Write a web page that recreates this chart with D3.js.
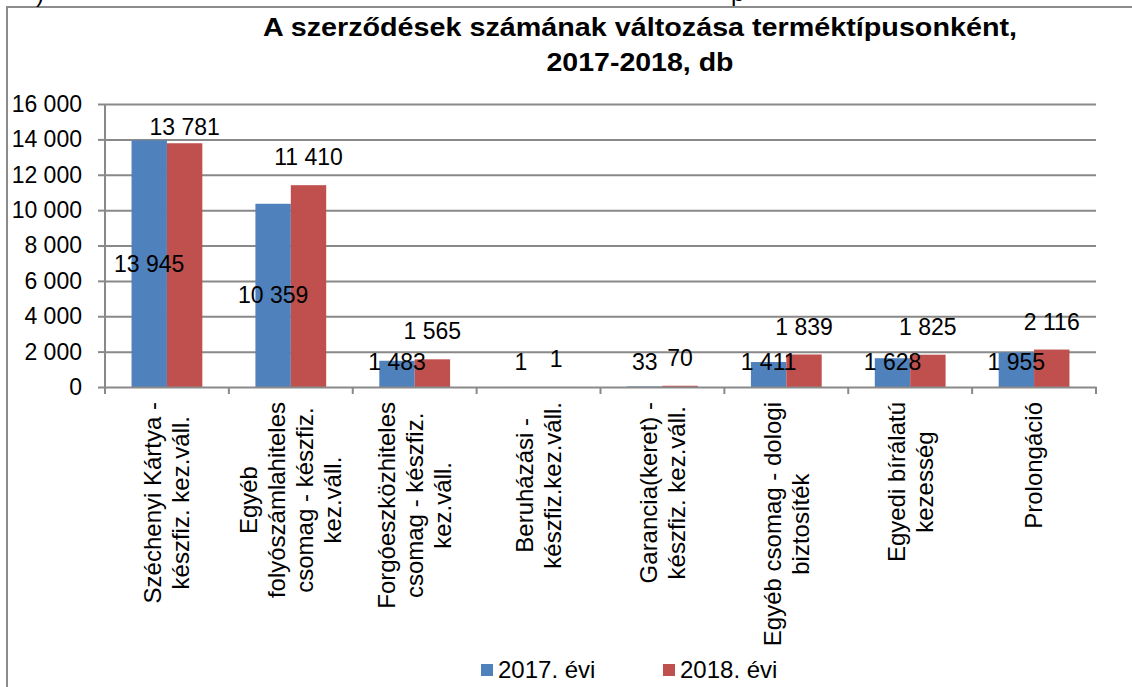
<!DOCTYPE html>
<html>
<head>
<meta charset="utf-8">
<script src="https://cdn.jsdelivr.net/npm/d3@7"></script>
<style>
  body { margin: 0; background: #fff; }
  svg { display: block; font-family: "Liberation Sans", Arial, sans-serif; }
</style>
</head>
<body>
<div id="chart"></div>
<script>
const categories = [
    ["Széchenyi Kártya -", "készfiz. kez.váll."],
    ["Egyéb", "folyószámlahiteles", "csomag - készfiz.", "kez.váll."],
    ["Forgóeszközhiteles", "csomag - készfiz.", "kez.váll."],
    ["Beruházási -", "készfiz.kez.váll."],
    ["Garancia(keret) -", "készfiz. kez.váll."],
    ["Egyéb csomag - dologi", "biztosíték"],
    ["Egyedi bírálatú", "kezesség"],
    ["Prolongáció"]
];
const seriesNames = ["2017. évi", "2018. évi"];
const values2017 = [13945, 10359, 1483, 1, 33, 1411, 1628, 1955];
const values2018 = [13781, 11410, 1565, 1, 70, 1839, 1825, 2116];
const yTicks = [0, 2000, 4000, 6000, 8000, 10000, 12000, 14000, 16000];
const titleLines = ["A szerződések számának változása terméktípusonként,", "2017-2018, db"];
const colors = ["#4F81BD", "#C0504D"];

const svg = d3.select("#chart").append("svg")
    .attr("width", 1132)
    .attr("height", 687);

const margin = {top: 104, right: 36, bottom: 300, left: 105};
const width = 1132 - margin.left - margin.right;
const height = 687 - margin.top - margin.bottom;
const gridColor = "#898989";

const fmt = v => d3.format(",")(v).replace(/,/g, " ");

// frame of the chart object (only top and left edges visible)
svg.append("path")
    .attr("d", "M7,687V7H1132")
    .attr("fill", "none")
    .attr("stroke", "#8c8c8c")
    .attr("stroke-width", 2);

// fragments of the text above the chart, cut off by the page edge
svg.append("text").attr("x", 36).attr("y", 2).attr("font-size", 24).text(")");
svg.append("text").attr("x", 731).attr("y", 1).attr("font-size", 24).text("p");

// title
svg.append("g").selectAll("text")
    .data(titleLines)
    .enter()
    .append("text")
        .attr("x", 640)
        .attr("y", (d, i) => 36 + i * 35)
        .attr("text-anchor", "middle")
        .attr("font-size", 25)
        .attr("font-weight", "bold")
        .attr("textLength", (d, i) => i === 0 ? 754 : 187)
        .attr("lengthAdjust", "spacingAndGlyphs")
        .text(d => d);

const g = svg.append("g").attr("transform", "translate(" + margin.left + "," + margin.top + ")");

const x = d3.scaleBand().domain(d3.range(categories.length)).range([0, width]);
const xs = d3.scaleBand().domain([0, 1]).range([0, x.bandwidth()]).paddingOuter(0.75);
const y = d3.scaleLinear().domain([0, 16000]).range([height, 0]);

// gridlines
g.append("g")
    .call(d3.axisLeft(y).tickValues(yTicks.slice(1)).tickSize(-width).tickFormat(""))
    .call(a => a.select(".domain").remove())
    .call(a => a.selectAll("line").attr("stroke", gridColor).attr("stroke-width", 2));

// y axis
g.append("g")
    .call(d3.axisLeft(y).tickValues(yTicks).tickSize(7).tickPadding(16).tickFormat(fmt))
    .call(a => a.select(".domain").attr("stroke", gridColor).attr("stroke-width", 2).attr("d", "M0," + height + "V0"))
    .call(a => a.selectAll("line").attr("stroke", gridColor).attr("stroke-width", 2))
    .call(a => a.selectAll("text").attr("font-size", 23).attr("fill", "#000").attr("font-family", null));

// bars
const series = [values2017, values2018];
series.forEach((vals, s) => {
    g.append("g").selectAll("rect")
        .data(vals)
        .enter()
        .append("rect")
            .attr("x", (d, i) => x(i) + xs(s))
            .attr("width", xs.bandwidth())
            .attr("y", d => y(d))
            .attr("height", d => height - y(d))
            .attr("fill", colors[s]);
});

// x axis
g.append("g")
    .attr("transform", "translate(0," + height + ")")
    .call(d3.axisBottom(x).tickValues([]).tickSizeOuter(0))
    .call(a => a.select(".domain").attr("stroke", gridColor).attr("stroke-width", 2))
    .call(a => a.selectAll(".bound").data(d3.range(categories.length + 1)).enter()
        .append("line")
            .attr("class", "bound")
            .attr("x1", i => i * x.step())
            .attr("x2", i => i * x.step())
            .attr("y1", 0)
            .attr("y2", 7)
            .attr("stroke", gridColor)
            .attr("stroke-width", 2));

// data labels
g.append("g").selectAll("text")
    .data(values2017)
    .enter()
    .append("text")
        .attr("x", (d, i) => x(i) + xs(0) + xs.bandwidth() / 2)
        .attr("y", d => Math.min((y(d) + height) / 2, height - 25))
        .attr("dy", "0.35em")
        .attr("text-anchor", "middle")
        .attr("font-size", 23)
        .text(fmt);

g.append("g").selectAll("text")
    .data(values2018)
    .enter()
    .append("text")
        .attr("x", (d, i) => x(i) + xs(1) + xs.bandwidth() / 2)
        .attr("y", d => Math.max(y(d) - 28, 23))
        .attr("dy", "0.35em")
        .attr("text-anchor", "middle")
        .attr("font-size", 23)
        .text(fmt);

// category labels, rotated, lines centred on the longest one
const catG = g.append("g").attr("transform", "translate(0," + (height + 15) + ")");
categories.forEach((lines, i) => {
    const probe = catG.append("text").attr("font-size", 24);
    const maxW = d3.max(lines, l => probe.text(l).node().getComputedTextLength());
    probe.remove();
    const cx = x(i) + x.bandwidth() / 2;
    lines.forEach((line, j) => {
        const lx = cx + (j - (lines.length - 1) / 2) * 28;
        catG.append("text")
            .attr("transform", "translate(" + lx + "," + (maxW / 2) + ") rotate(-90)")
            .attr("text-anchor", "middle")
            .attr("dy", "0.35em")
            .attr("font-size", 24)
            .text(line);
    });
});

// legend
const legend = svg.append("g").selectAll("g")
    .data(seriesNames)
    .enter()
    .append("g")
        .attr("transform", (d, i) => "translate(" + (481 + i * 182) + ",664)");
legend.append("rect")
    .attr("width", 12)
    .attr("height", 12)
    .attr("fill", (d, i) => colors[i]);
legend.append("text")
    .attr("x", 17)
    .attr("y", 6)
    .attr("dy", "0.35em")
    .attr("font-size", 24)
    .text(d => d);
</script>
</body>
</html>
